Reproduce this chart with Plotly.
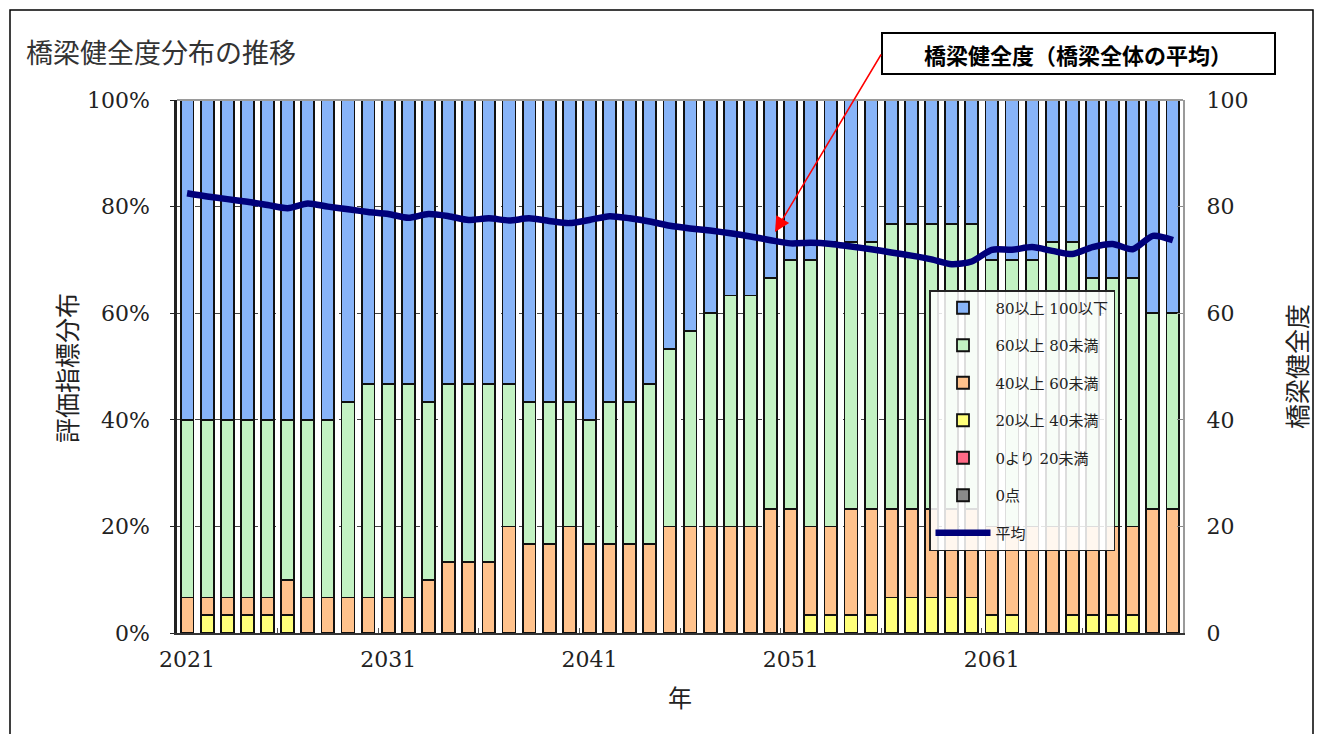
import plotly.graph_objects as go

# ---------------- data ----------------
years = list(range(2021, 2071))
TOTAL_BRIDGES = 30  # distribution is in steps of 1/30

cnt_zero = [0, 0, 0, 0, 0, 0, 0, 0, 0, 0,
            0, 0, 0, 0, 0, 0, 0, 0, 0, 0,
            0, 0, 0, 0, 0, 0, 0, 0, 0, 0,
            0, 0, 0, 0, 0, 0, 0, 0, 0, 0,
            0, 0, 0, 0, 0, 0, 0, 0, 0, 0]
cnt_0_20 = [0, 0, 0, 0, 0, 0, 0, 0, 0, 0,
            0, 0, 0, 0, 0, 0, 0, 0, 0, 0,
            0, 0, 0, 0, 0, 0, 0, 0, 0, 0,
            0, 0, 0, 0, 0, 0, 0, 0, 0, 0,
            0, 0, 0, 0, 0, 0, 0, 0, 0, 0]
cnt_20_40 = [0, 1, 1, 1, 1, 1, 0, 0, 0, 0,
             0, 0, 0, 0, 0, 0, 0, 0, 0, 0,
             0, 0, 0, 0, 0, 0, 0, 0, 0, 0,
             0, 1, 1, 1, 1, 2, 2, 2, 2, 2,
             1, 1, 0, 0, 1, 1, 1, 1, 0, 0]
cnt_40_60 = [2, 1, 1, 1, 1, 2, 2, 2, 2, 2,
             2, 2, 3, 4, 4, 4, 6, 5, 5, 6,
             5, 5, 5, 5, 6, 6, 6, 6, 6, 7,
             7, 5, 5, 6, 6, 5, 5, 5, 5, 5,
             5, 5, 6, 6, 5, 5, 5, 5, 7, 7]
cnt_60_80 = [10, 10, 10, 10, 10, 9, 10, 10, 11, 12,
             12, 12, 10, 10, 10, 10, 8, 8, 8, 7,
             7, 8, 8, 9, 10, 11, 12, 13, 13, 13,
             14, 15, 16, 15, 15, 16, 16, 16, 16, 16,
             15, 15, 15, 16, 16, 14, 14, 14, 11, 11]
cnt_80_100 = [18, 18, 18, 18, 18, 18, 18, 18, 17, 16,
              16, 16, 17, 16, 16, 16, 16, 17, 17, 17,
              18, 17, 17, 16, 14, 13, 12, 11, 11, 10,
              9, 9, 8, 8, 8, 7, 7, 7, 7, 7,
              9, 9, 9, 8, 8, 10, 10, 10, 12, 12]
avg_health = [82.5, 81.9, 81.4, 80.9, 80.3, 79.7, 80.6, 80.0, 79.5, 79.0,
              78.6, 77.9, 78.6, 78.2, 77.5, 77.8, 77.4, 77.8, 77.3, 76.9,
              77.5, 78.2, 77.8, 77.2, 76.4, 75.9, 75.5, 75.0, 74.4, 73.7,
              73.1, 73.2, 73.0, 72.5, 72.0, 71.4, 70.8, 70.1, 69.2, 69.7,
              71.9, 71.9, 72.4, 71.7, 71.1, 72.4, 73.0, 72.0, 74.5, 73.7]

series_names = ["0点", "0より 20未満", "20以上 40未満", "40以上 60未満",
                "60以上 80未満", "80以上 100以下"]
series_counts = [cnt_zero, cnt_0_20, cnt_20_40, cnt_40_60, cnt_60_80, cnt_80_100]
series_colors = ["#8a8a8a", "#ff6a86", "#ffff7a", "#ffc28c", "#c3f2c3", "#88b4f8"]
legend_ranks = [6, 5, 4, 3, 2, 1]
x_tick_years = [2021, 2031, 2041, 2051, 2061]
x_minor_ticks = [2025.5, 2030.5, 2035.5, 2040.5, 2045.5, 2050.5, 2055.5, 2060.5, 2065.5]
pct_ticks = [0, 20, 40, 60, 80, 100]
pct_labels = ["0%", "20%", "40%", "60%", "80%", "100%"]
num_labels = ["0", "20", "40", "60", "80", "100"]

# ---------------- figure ----------------
# the page adds an 8px body margin, so the figure is offset by 8px
OFF = 8
W, H = 1323 - OFF, 742 - 2 * OFF
PLOT_L, PLOT_R, PLOT_T, PLOT_B = 177, 1183, 100, 633   # page pixels
ML, MT = PLOT_L - OFF, PLOT_T - OFF
MR = W - (PLOT_R - OFF)
MB = H - (PLOT_B - OFF)
PW, PH = PLOT_R - PLOT_L, PLOT_B - PLOT_T


def px_x(px):
    return (px - PLOT_L) / PW


def px_y(py):
    return (PLOT_B - py) / PH


serif = "DejaVu Serif, Noto Sans CJK JP"
jp = "Noto Sans CJK JP"

fig = go.Figure()
for name, cnts, col, rk in zip(series_names, series_counts, series_colors, legend_ranks):
    fig.add_trace(go.Bar(
        x=years, y=[c / TOTAL_BRIDGES * 100 for c in cnts], name=name,
        marker=dict(color=col, line=dict(color="#111111", width=1.8)),
        legendrank=rk, legendgroup=name,
    ))

fig.add_trace(go.Scatter(
    x=years, y=avg_health, name="平均", yaxis="y2", mode="lines",
    line=dict(color="#00007a", width=6.5, shape="spline", smoothing=0.7),
    legendrank=7, legendgroup="平均",
))

fig.update_layout(
    width=W, height=H,
    margin=dict(l=ML, r=MR, t=MT, b=MB),
    paper_bgcolor="white", plot_bgcolor="white",
    barmode="stack", bargap=0.36,
    font=dict(family=serif, color="#222222"),
    xaxis=dict(
        range=[2020.5, 2070.5], tickmode="array", tickvals=x_tick_years,
        ticks="", showgrid=False, zeroline=False,
        showline=True, linecolor="#333333", linewidth=2,
        ticklabelstandoff=6,
        tickfont=dict(family=serif, size=22, color="#222222"),
        minor=dict(tickmode="array", tickvals=x_minor_ticks, ticks="inside",
                   ticklen=5, tickcolor="#555555", tickwidth=1),
    ),
    yaxis=dict(
        range=[0, 100], tickmode="array", tickvals=pct_ticks, ticktext=pct_labels,
        showgrid=True, gridcolor="#444444", griddash="dash", gridwidth=1,
        zeroline=False, showline=True, linecolor="#222222", linewidth=2.5,
        ticks="outside", ticklen=4, tickcolor="#222222",
        ticklabelstandoff=16,
        tickfont=dict(family=serif, size=22, color="#222222"),
    ),
    yaxis2=dict(
        range=[0, 100], tickmode="array", tickvals=pct_ticks, ticktext=num_labels,
        overlaying="y", side="right", showgrid=False, zeroline=False,
        showline=True, linecolor="#9a9a9a", linewidth=2,
        ticks="inside", ticklen=6, tickcolor="#8a8a8a",
        ticklabelstandoff=17,
        tickfont=dict(family=serif, size=22, color="#222222"),
    ),
    legend=dict(
        x=px_x(929), y=px_y(290), xanchor="left", yanchor="top",
        bgcolor="rgba(255,255,255,0.86)", bordercolor="#222222", borderwidth=1.5,
        font=dict(family=serif, size=15, color="#222222"),
        traceorder="grouped", tracegroupgap=15, itemwidth=55,
    ),
    showlegend=True,
)

# outer frame, top border of the plot
fig.add_shape(type="rect", xref="paper", yref="paper",
              x0=px_x(10), x1=px_x(1313), y0=px_y(770), y1=px_y(10),
              line=dict(color="#000000", width=1.5), fillcolor="rgba(0,0,0,0)")
fig.add_shape(type="line", xref="paper", yref="paper", x0=0, x1=1, y0=1, y1=1,
              line=dict(color="#9a9a9a", width=2))

# callout box
fig.add_shape(type="rect", xref="paper", yref="paper",
              x0=px_x(882), x1=px_x(1275), y0=px_y(74), y1=px_y(33),
              line=dict(color="#000000", width=2), fillcolor="white")

annotations = [
    dict(text="橋梁健全度分布の推移", x=px_x(24), y=px_y(52), xanchor="left",
         font=dict(family=jp, size=27, color="#333333")),
    dict(text="評価指標分布", x=px_x(66), y=px_y(368), textangle=-90,
         font=dict(family=jp, size=25, color="#222222")),
    dict(text="橋梁健全度", x=px_x(1296), y=px_y(367), textangle=-90,
         font=dict(family=jp, size=25, color="#222222")),
    dict(text="年", x=px_x(680), y=px_y(696),
         font=dict(family=jp, size=24, color="#222222")),
    dict(text="橋梁健全度（橋梁全体の平均）", x=px_x(1078), y=px_y(54),
         font=dict(family=jp, size=22, color="#000000", weight="bold")),
    dict(text="", x=px_x(775), y=px_y(232), showarrow=True, axref="pixel", ayref="pixel",
         ax=107, ay=-179, arrowcolor="#ff0000", arrowwidth=1.5, arrowhead=2, arrowsize=2),
]
for a in annotations:
    a.setdefault("xref", "paper")
    a.setdefault("yref", "paper")
    a.setdefault("xanchor", "center")
    a.setdefault("yanchor", "middle")
    a.setdefault("showarrow", False)
    fig.add_annotation(**a)

fig.write_html("out.html")
